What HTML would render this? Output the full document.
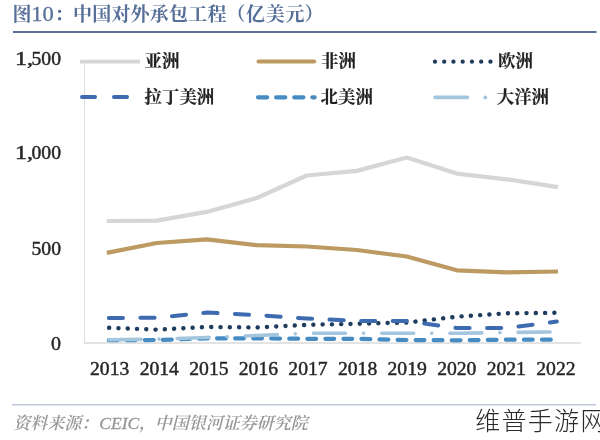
<!DOCTYPE html>
<html lang="zh-CN"><head><meta charset="utf-8"><title>图10：中国对外承包工程（亿美元）</title>
<style>
html,body{margin:0;padding:0;background:#fff;}
body{width:600px;height:440px;overflow:hidden;position:relative;}
svg{position:absolute;left:0;top:0;display:block;}
.serif{font-family:"Liberation Serif","Noto Serif CJK SC",serif;}
.title{font-weight:700;font-size:19px;fill:#566f98;}
.ax{font-size:19.5px;fill:#262626;stroke:#262626;stroke-width:0.45px;}
.lg{font-size:17.4px;font-weight:700;fill:#222;stroke:#222;stroke-width:0.2px;}
.src{font-size:17px;font-style:italic;font-weight:600;fill:#979797;}
.wm{font-family:"Liberation Sans","Noto Sans CJK SC",sans-serif;font-weight:300;font-size:25px;letter-spacing:1.3px;fill:#2a2a2a;}
polyline,line{fill:none;}
</style></head><body>
<svg width="600" height="440" viewBox="0 0 600 440">
<rect width="600" height="440" fill="#fff"/>
<!-- title -->
<text class="serif title" y="21"><tspan x="12.6">图</tspan><tspan x="31.3" style="font-weight:400;font-size:20.5px;stroke:#566f98;stroke-width:0.3px" textLength="22.5" lengthAdjust="spacingAndGlyphs">10</tspan><tspan x="54.5">：</tspan><tspan x="73" textLength="153.4" lengthAdjust="spacing">中国对外承包工程</tspan><tspan x="226.4">（</tspan><tspan x="246" textLength="58.6" lengthAdjust="spacing">亿美元</tspan><tspan x="304.6">）</tspan></text>
<line x1="13" y1="32" x2="596.5" y2="32" stroke="#587098" stroke-width="1.9"/>
<!-- axes -->
<line x1="84.5" y1="61" x2="84.5" y2="343.5" stroke="#dedede" stroke-width="1"/>
<line x1="84" y1="343" x2="581" y2="343" stroke="#c8c8c8" stroke-width="1"/>
<g class="serif ax" text-anchor="end">
<text y="65" text-anchor="start"><tspan x="15" textLength="18" lengthAdjust="spacingAndGlyphs">1,</tspan><tspan x="31.5" textLength="29.5" lengthAdjust="spacingAndGlyphs">500</tspan></text>
<text y="159.3" text-anchor="start"><tspan x="15" textLength="18" lengthAdjust="spacingAndGlyphs">1,</tspan><tspan x="31.5" textLength="29.5" lengthAdjust="spacingAndGlyphs">000</tspan></text>
<text x="61" y="254.6" textLength="29.5" lengthAdjust="spacingAndGlyphs">500</text>
<text x="61" y="349.6" textLength="10" lengthAdjust="spacingAndGlyphs">0</text>
</g>
<g class="serif ax" text-anchor="middle">
<text x="109.7" y="375.4" textLength="39.3" lengthAdjust="spacingAndGlyphs">2013</text>
<text x="159.3" y="375.4" textLength="39.3" lengthAdjust="spacingAndGlyphs">2014</text>
<text x="208.9" y="375.4" textLength="39.3" lengthAdjust="spacingAndGlyphs">2015</text>
<text x="258.4" y="375.4" textLength="39.3" lengthAdjust="spacingAndGlyphs">2016</text>
<text x="308.0" y="375.4" textLength="39.3" lengthAdjust="spacingAndGlyphs">2017</text>
<text x="357.6" y="375.4" textLength="39.3" lengthAdjust="spacingAndGlyphs">2018</text>
<text x="407.2" y="375.4" textLength="39.3" lengthAdjust="spacingAndGlyphs">2019</text>
<text x="456.8" y="375.4" textLength="39.3" lengthAdjust="spacingAndGlyphs">2020</text>
<text x="506.3" y="375.4" textLength="39.3" lengthAdjust="spacingAndGlyphs">2021</text>
<text x="555.9" y="375.4" textLength="39.3" lengthAdjust="spacingAndGlyphs">2022</text>
</g>
<!-- series -->
<polyline points="106.8,221.0 156.8,220.6 206.8,211.9 256.8,198.0 306.8,175.5 356.8,170.9 406.8,157.5 456.8,173.6 506.8,179.3 558.0,187.1" stroke="#d6d6d6" stroke-width="4.2" stroke-linejoin="round"/>
<polyline points="106.8,252.9 156.8,243.0 206.8,239.4 256.8,245.2 306.8,246.5 356.8,250.0 406.8,256.5 456.8,270.3 506.8,272.3 558.0,271.5" stroke="#bc9a62" stroke-width="4.2" stroke-linejoin="round"/>
<polyline points="109.1,327.8 156.8,329.7 206.8,327.0 256.8,327.5 306.8,324.9 356.8,323.8 406.8,322.6 456.8,316.7 506.8,313.3 556.8,312.8" stroke="#1e3c5c" stroke-width="4.4" stroke-linecap="round" stroke-dasharray="0.1 9.19"/>
<polyline points="108.8,318 156.8,317.7 206.8,312.6 256.8,315.0 306.8,318.5 356.8,320.9 406.8,321.0 456.8,328.0 506.8,328.0 556.8,321.6" stroke="#3e6bb0" stroke-width="4" stroke-linecap="round" stroke-dasharray="14.2 17.4"/>
<polyline points="108.8,340.2 156.8,340.0 206.8,338.5 256.8,338.3 306.8,338.8 356.8,338.8 406.8,340.0 456.8,340.3 506.8,339.7 556.8,339.7" stroke="#468cc3" stroke-width="4.2" stroke-linecap="round" stroke-dasharray="8.8 9.25"/>
<polyline points="109,339.8 156.8,339.2 206.8,337.5 256.8,335.5 306.8,333.3 356.8,333.3 406.8,333.3 456.8,333.3 506.8,332.5 556.8,332.0" stroke="#a4c5de" stroke-width="3.6" stroke-linecap="round" stroke-dasharray="32 18 0.1 18.1"/>
<!-- legend -->
<line x1="80" y1="61.6" x2="140" y2="61.6" stroke="#d6d6d6" stroke-width="3.6"/>
<line x1="258.5" y1="61.4" x2="314.2" y2="61.4" stroke="#bc9a62" stroke-width="4" stroke-linecap="round"/>
<line x1="434.9" y1="61.7" x2="491" y2="61.7" stroke="#1e3c5c" stroke-width="4.2" stroke-linecap="round" stroke-dasharray="0.1 9.15"/>
<line x1="82" y1="97" x2="138" y2="97" stroke="#3e6bb0" stroke-width="4" stroke-linecap="round" stroke-dasharray="13 19"/>
<line x1="258" y1="97.3" x2="314.7" y2="97.3" stroke="#468cc3" stroke-width="4.2" stroke-linecap="round" stroke-dasharray="9.2 8.9"/>
<line x1="435.2" y1="97.4" x2="493" y2="97.4" stroke="#a4c5de" stroke-width="3.8" stroke-linecap="round" stroke-dasharray="32.2 17.8 0.1 30"/>
<g class="serif lg">
<text x="144.6" y="67.3">亚洲</text>
<text x="321" y="67.3">非洲</text>
<text x="498" y="67.3">欧洲</text>
<text x="144.6" y="103">拉丁美洲</text>
<text x="320.6" y="103">北美洲</text>
<text x="496.8" y="103">大洋洲</text>
</g>
<!-- footer -->
<line x1="12" y1="404.8" x2="596" y2="404.8" stroke="#c4cae0" stroke-width="1.6"/>
<text class="serif src" y="429"><tspan x="13.2">资料来源：</tspan><tspan x="99.3" textLength="40" lengthAdjust="spacingAndGlyphs" style="font-weight:400;font-size:17.6px;stroke:#979797;stroke-width:0.3px">CEIC</tspan><tspan x="139">，</tspan><tspan x="154.8">中国银河证券研究院</tspan></text>
<rect x="468" y="406" width="132" height="34" fill="#fff"/>
<text class="wm" x="475.2" y="429.6">维普手游网</text>
</svg>
</body></html>
